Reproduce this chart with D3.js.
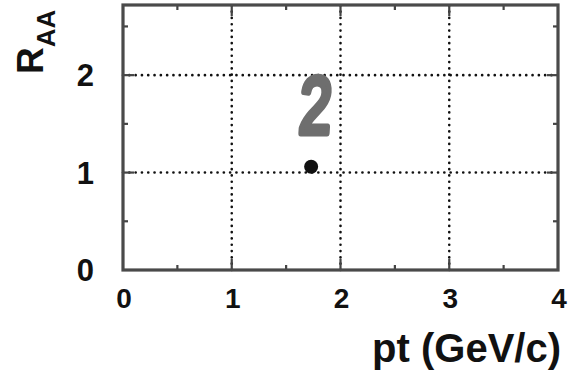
<!DOCTYPE html>
<html><head><meta charset="utf-8">
<script src="https://cdn.jsdelivr.net/npm/d3@7"></script>
<style>body{margin:0;background:#fff}svg{display:block}</style>
</head><body>
<script>
const xTicks = [0, 1, 2, 3, 4];
const yTicks = [0, 1, 2];
const xMinor = [0.5, 1.5, 2.5, 3.5];
const yMinor = [0.5, 1.5, 2.5];
const xGrid = [1, 2, 3];
const yGrid = [1, 2];
const pointsX = [1.73];
const pointsY = [1.06];
const annotation = "2";

const W = 572, H = 371;
const m = {l: 123, r: 14, t: 5, b: 101};
const svg = d3.select("body").append("svg").attr("width", W).attr("height", H);
const x = d3.scaleLinear().domain([0, 4]).range([m.l, W - m.r]);
const y = d3.scaleLinear().domain([0, 2.72]).range([H - m.b, m.t]);
const font = "'Liberation Sans', Arial, Helvetica, sans-serif";

// grid
svg.append("g").selectAll("line").data(xGrid).join("line")
  .attr("x1", d => x(d)).attr("x2", d => x(d)).attr("y1", y(0)).attr("y2", y(2.72))
  .attr("stroke", "#111").attr("stroke-width", 2.6).attr("stroke-linecap", "round")
  .attr("stroke-dasharray", "0.1 6.2");
svg.append("g").selectAll("line").data(yGrid).join("line")
  .attr("y1", d => y(d)).attr("y2", d => y(d)).attr("x1", x(0)).attr("x2", x(4))
  .attr("stroke", "#111").attr("stroke-width", 2.6).attr("stroke-linecap", "round")
  .attr("stroke-dasharray", "0.1 6.2");

// ticks (inward)
const tk = svg.append("g").attr("stroke", "#444").attr("stroke-width", 2.2);
xTicks.slice(1, -1).forEach(d => {
  tk.append("line").attr("x1", x(d)).attr("x2", x(d)).attr("y1", y(0)).attr("y2", y(0) - 11);
  tk.append("line").attr("x1", x(d)).attr("x2", x(d)).attr("y1", y(2.72)).attr("y2", y(2.72) + 11);
});
xMinor.forEach(d => {
  tk.append("line").attr("x1", x(d)).attr("x2", x(d)).attr("y1", y(0)).attr("y2", y(0) - 5);
  tk.append("line").attr("x1", x(d)).attr("x2", x(d)).attr("y1", y(2.72)).attr("y2", y(2.72) + 5);
});
yTicks.slice(1).forEach(d => {
  tk.append("line").attr("y1", y(d)).attr("y2", y(d)).attr("x1", x(0)).attr("x2", x(0) + 11);
  tk.append("line").attr("y1", y(d)).attr("y2", y(d)).attr("x1", x(4)).attr("x2", x(4) - 11);
});
yMinor.forEach(d => {
  tk.append("line").attr("y1", y(d)).attr("y2", y(d)).attr("x1", x(0)).attr("x2", x(0) + 5);
  tk.append("line").attr("y1", y(d)).attr("y2", y(d)).attr("x1", x(4)).attr("x2", x(4) - 5);
});

// frame
svg.append("rect").attr("x", x(0)).attr("y", y(2.72)).attr("width", x(4) - x(0)).attr("height", y(0) - y(2.72))
  .attr("fill", "none").attr("stroke", "#4a4a4a").attr("stroke-width", 3.2);

// tick labels
svg.append("g").selectAll("text").data(xTicks).join("text")
  .attr("x", d => x(d) + 1).attr("y", y(0) + 38).attr("text-anchor", "middle")
  .attr("font-family", font).attr("font-weight", "bold").attr("font-size", 28).attr("fill", "#111")
  .text(d => d);
svg.append("g").selectAll("text").data(yTicks).join("text")
  .attr("x", x(0) - 29).attr("y", d => y(d) + 11).attr("text-anchor", "end")
  .attr("font-family", font).attr("font-weight", "bold").attr("font-size", 31).attr("fill", "#111")
  .text(d => d);

// axis titles
svg.append("text").attr("x", W - 11).attr("y", 362).attr("text-anchor", "end")
  .attr("font-family", font).attr("font-weight", "bold").attr("font-size", 40).attr("fill", "#111")
  .text("pt (GeV/c)");
const yt = svg.append("text").attr("transform", "translate(43,74) rotate(-90)")
  .attr("font-family", font).attr("font-weight", "bold").attr("fill", "#111");
yt.append("tspan").attr("font-size", 37).text("R");
yt.append("tspan").attr("font-size", 26).attr("dy", 12).text("AA");

// annotation
svg.append("text").attr("transform", "translate(314,133) scale(0.72,1) skewX(-5)")
  .attr("text-anchor", "middle")
  .attr("font-family", font).attr("font-size", 80)
  .attr("fill", "#6e6e6e").attr("stroke", "#6e6e6e").attr("stroke-width", 7)
  .attr("stroke-linejoin", "round").attr("stroke-linecap", "round")
  .text(annotation);

// data point
svg.append("g").selectAll("circle").data(pointsX).join("circle")
  .attr("cx", (d) => x(d)).attr("cy", (d, i) => y(pointsY[i])).attr("r", 7).attr("fill", "#111");
</script>
</body></html>
